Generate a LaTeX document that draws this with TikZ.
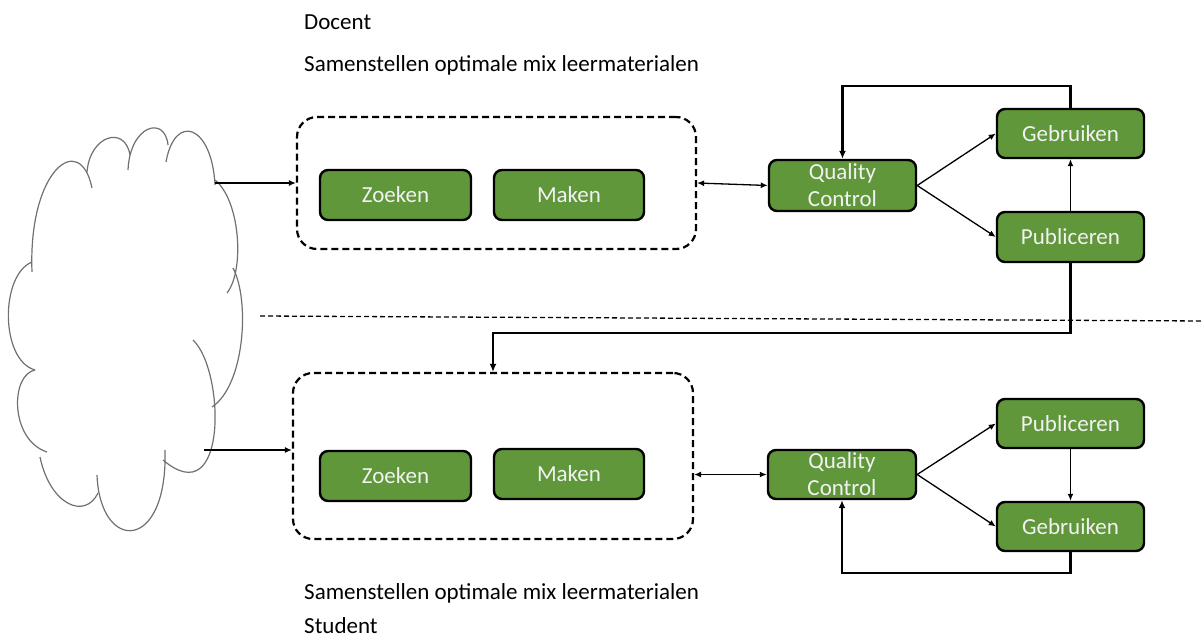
\documentclass[tikz,border=0pt]{standalone}
\usepackage{fontspec}
\setmainfont{Carlito}
\usetikzlibrary{arrows.meta}
\definecolor{boxgreen}{HTML}{5F973A}
\definecolor{cloudgray}{HTML}{707070}
\tikzset{
  gbox/.style={draw=black,line width=2.4pt,fill=boxgreen,rounded corners=8pt,
    text=white!95!black,font=\fontsize{23}{27}\selectfont,inner sep=0pt,
    align=center,minimum height=49pt},
  dbox/.style={draw=black,line width=2.2pt,dash pattern=on 7pt off 4pt,rounded corners=20pt,inner sep=0pt},
  thin arrow/.style={line width=1.3pt,-{Latex[length=7pt,width=6pt]}},
  both arrow/.style={line width=1.3pt,{Latex[length=7pt,width=6pt]}-{Latex[length=7pt,width=6pt]}},
  thick arrow/.style={line width=2.4pt,-{Latex[length=8pt,width=7pt]}},
  lbl/.style={font=\fontsize{23}{25}\selectfont,anchor=base west,inner sep=0pt},
  lobe/.style={draw=cloudgray,line width=1.2pt},
}
\begin{document}
\begin{tikzpicture}[x=1pt,y=-1pt]
\useasboundingbox (0,0) rectangle (1203,644);
% cloud (open lobes)
\draw[lobe] (32,272) .. controls (28,170) and (80,130) .. (92,188);
\draw[lobe] (87,172) .. controls (90,135) and (125,125) .. (130,155);
\draw[lobe] (128,170) .. controls (130,125) and (165,115) .. (168,145);
\draw[lobe] (166,162) .. controls (175,112) and (212,125) .. (215,185);
\draw[lobe] (215,180) .. controls (240,200) and (245,270) .. (227,293);
\draw[lobe] (233,268) .. controls (250,300) and (245,385) .. (212,407);
\draw[lobe] (193,340) .. controls (225,370) and (228,515) .. (163,460);
\draw[lobe] (165,450) .. controls (168,553) and (100,553) .. (97,475);
\draw[lobe] (98,493) .. controls (85,520) and (50,505) .. (40,457);
\draw[lobe] (47,452) .. controls (10,440) and (10,375) .. (35,370);
\draw[lobe] (35,370) .. controls (0,360) and (0,275) .. (32,262);
\coordinate (c1) at (215,183);
\coordinate (c2) at (204,450);
% labels
\node[lbl] (docent) at (304,30) {Docent};
\node[lbl] (sam1) at (304,72) {Samenstellen optimale mix leermaterialen};
\node[lbl] (sam2) at (304,599) {Samenstellen optimale mix leermaterialen};
\node[lbl] (student) at (304,633) {Student};
% dashed boxes
\node[dbox,minimum width=399pt,minimum height=132pt] (box1) at (496.5,183) {};
\node[dbox,minimum width=400pt,minimum height=166pt] (box2) at (493,456) {};
% green boxes
\node[gbox,minimum width=151pt,minimum height=50pt] (Z1) at (395.5,195) {Zoeken};
\node[gbox,minimum width=150pt,minimum height=50pt] (M1) at (569,195) {Maken};
\node[gbox,minimum width=151pt,minimum height=50pt] (Z2) at (395.5,476) {Zoeken};
\node[gbox,minimum width=150pt,minimum height=50pt] (M2) at (569,474) {Maken};
\node[gbox,minimum width=147pt,minimum height=51pt] (QC1) at (842.5,185.5) {Quality\\Control};
\node[gbox,minimum width=148pt,minimum height=49pt] (QC2) at (842,474.5) {Quality\\Control};
\node[gbox,minimum width=147pt] (G1) at (1070.5,133.5) {Gebruiken};
\node[gbox,minimum width=147pt,minimum height=50pt] (P1) at (1070.5,237) {Publiceren};
\node[gbox,minimum width=147pt] (P2) at (1070.5,423.5) {Publiceren};
\node[gbox,minimum width=147pt] (G2) at (1070.5,526.5) {Gebruiken};
% separator
\coordinate (sepL) at (260,316);
\coordinate (sepR) at (1203,321);
\draw[line width=1.3pt,dash pattern=on 5pt off 3pt] (sepL) -- (sepR);
% connectors top
\draw[thin arrow] (c1) -- (c1 -| box1.west);
\draw[both arrow] (box1.east) -- (QC1.west);
\draw[thin arrow] (QC1.east) -- (G1.west);
\draw[thin arrow] (QC1.east) -- (P1.west);
\draw[thin arrow] (P1.north) -- (G1.south);
\draw[thick arrow] (G1.north) -- (G1.north |- 0,86) -| (QC1.north);
\draw[thick arrow] (P1.south) -- (P1.south |- 0,333) -| (box2.north);
% connectors bottom
\draw[thin arrow] (c2) -- (c2 -| box2.west);
\draw[both arrow] (box2.east |- QC2.west) -- (QC2.west);
\draw[thin arrow] (QC2.east) -- (P2.west);
\draw[thin arrow] (QC2.east) -- (G2.west);
\draw[thin arrow] (P2.south) -- (G2.north);
\draw[thick arrow] (G2.south) -- (G2.south |- 0,573) -| (QC2.south);
\end{tikzpicture}
\end{document}
